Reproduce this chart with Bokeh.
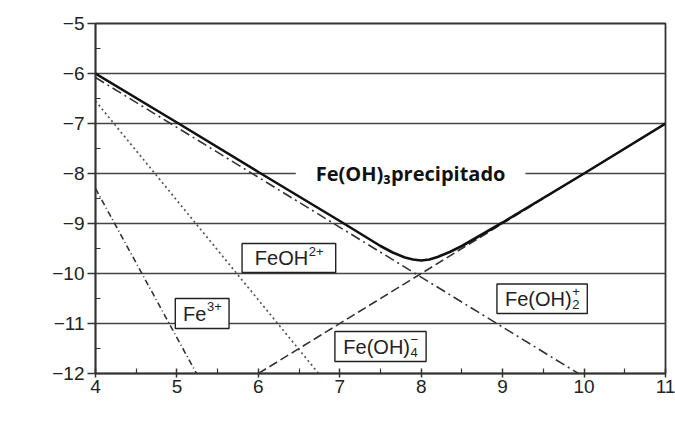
import math
from bokeh.plotting import figure
from bokeh.models import Range1d, Label, BoxAnnotation, FixedTicker, CustomJSTickFormatter
from bokeh.embed import file_html
from bokeh.resources import INLINE

# ---- data ----
ph_ticks = [4, 5, 6, 7, 8, 9, 10, 11]
log_ticks = [-12, -11, -10, -9, -8, -7, -6, -5]

# total solubility (solid)
ph_total = [4.0, 5.0, 6.0, 7.0, 7.5, 7.65, 7.8, 7.9, 8.0, 8.1, 8.2, 8.35, 8.5, 9.0, 10.0, 11.0]
log_total = [-6.0, -6.98, -7.97, -8.95, -9.45, -9.58, -9.68, -9.72, -9.74, -9.72, -9.67, -9.57, -9.45, -8.98, -8.0, -7.0]

# Fe(OH)2+ (dash-dot)
ph_feoh2 = [4.0, 9.93]
log_feoh2 = [-6.08, -12.0]

# FeOH2+ (dotted)
ph_feoh = [4.0, 6.74]
log_feoh = [-6.55, -12.0]

# Fe3+ (dash-dot, short)
ph_fe3 = [4.0, 5.24]
log_fe3 = [-8.3, -12.0]

# Fe(OH)4- (dashed)
ph_feoh4 = [6.0, 11.0]
log_feoh4 = [-12.0, -7.0]

# label boxes: (left, right, bottom, top, base, sup, sub)
box_labels = [
    (5.80, 6.95, -9.98, -9.40, "FeOH", "2+", ""),
    (4.98, 5.64, -11.10, -10.50, "Fe", "3+", ""),
    (8.93, 10.04, -10.80, -10.21, "Fe(OH)", "+", "2"),
    (6.94, 8.06, -11.76, -11.16, "Fe(OH)", "\u2212", "4"),
]

title_text = "Fe(OH)\u2083precipitado"
title_pos = (7.87, -8.0)
x_label = "pH"
y_label = "log [Fe(III)]"

# ---- figure ----
p = figure(width=675, height=428, x_range=Range1d(4, 11), y_range=Range1d(-12, -5),
           output_backend="svg", toolbar_location=None,
           min_border_left=95, min_border_right=10, min_border_top=23, min_border_bottom=55)
p.background_fill_color = "white"
p.border_fill_color = "white"
p.outline_line_color = "#333333"
p.outline_line_width = 1.8

p.xaxis.ticker = FixedTicker(ticks=ph_ticks, minor_ticks=[t + 0.5 for t in ph_ticks[:-1]])
p.yaxis.ticker = FixedTicker(ticks=log_ticks, minor_ticks=[t + 0.5 for t in log_ticks[:-1]])
p.yaxis.formatter = CustomJSTickFormatter(code="return tick < 0 ? '\\u2212' + Math.abs(tick) : '' + tick;")

for ax in (p.xaxis[0], p.yaxis[0]):
    ax.axis_line_color = "#333333"
    ax.axis_line_width = 1.6
    ax.major_tick_line_color = "#333333"
    ax.minor_tick_line_color = "#333333"
    ax.major_tick_line_width = 1.5
    ax.minor_tick_line_width = 1.2
    ax.major_label_text_font = "Liberation Sans"
    ax.major_label_text_font_size = "19px"
    ax.major_label_text_color = "#222222"

p.yaxis.major_tick_out = 8
p.yaxis.major_tick_in = 0
p.yaxis.minor_tick_in = 5
p.yaxis.minor_tick_out = 0
p.yaxis.major_label_standoff = 3

p.xaxis.major_tick_out = 4
p.xaxis.major_tick_in = 5
p.xaxis.minor_tick_in = 5
p.xaxis.minor_tick_out = 0
p.xaxis.major_label_standoff = 2

p.xgrid.visible = False
p.ygrid.ticker = FixedTicker(ticks=log_ticks)
p.ygrid.grid_line_color = "#444444"
p.ygrid.grid_line_width = 1.5

# ---- lines ----
p.line(ph_fe3, log_fe3, line_color="#333333", line_width=1.6, line_dash="6 3 1 3")
p.line(ph_feoh, log_feoh, line_color="#555555", line_width=1.7, line_dash="2 3")
p.line(ph_feoh4, log_feoh4, line_color="#333333", line_width=1.6, line_dash="9 4")
p.line(ph_feoh2, log_feoh2, line_color="#333333", line_width=1.6, line_dash="10 4 2 4")
p.line(ph_total, log_total, line_color="#111111", line_width=2.6)

# ---- labels ----
p.add_layout(Label(x=title_pos[0], y=title_pos[1], text=title_text, text_font="Open Sans",
                   text_font_style="bold", text_font_size="20px", text_color="#111111",
                   text_align="center", text_baseline="middle",
                   background_fill_color="white", padding=(20, 2)))

ARIAL = {"F": .611, "e": .556, "O": .778, "H": .722, "(": .333, ")": .333,
         "2": .556, "3": .556, "4": .556, "+": .584, "\u2212": .584}


def tw(s, size):
    return sum(ARIAL.get(c, .556) for c in s) * size


BASE = 20
SCR = 13
for x0, x1, y0, y1, base, sup, sub in box_labels:
    p.add_layout(BoxAnnotation(left=x0, right=x1, bottom=y0, top=y1, fill_color="white",
                               fill_alpha=1.0, line_color="#222222", line_width=1.4, line_alpha=1.0))
    bw = tw(base, BASE)
    sw = max(tw(sup, SCR), tw(sub, SCR))
    cx = (x0 + x1) / 2
    cy = (y0 + y1) / 2
    anchor = -(bw + sw) / 2 + bw
    p.add_layout(Label(x=cx, y=cy, x_offset=anchor, text=base, text_align="right",
                       text_baseline="middle", text_font="Liberation Sans",
                       text_font_size=f"{BASE}px", text_color="#222222"))
    if sup:
        p.add_layout(Label(x=cx, y=cy, x_offset=anchor + 0.5, y_offset=7, text=sup,
                           text_align="left", text_baseline="middle", text_font="Liberation Sans",
                           text_font_size=f"{SCR}px", text_color="#222222"))
    if sub:
        p.add_layout(Label(x=cx, y=cy, x_offset=anchor + 0.5, y_offset=-6, text=sub,
                           text_align="left", text_baseline="middle", text_font="Liberation Sans",
                           text_font_size=f"{SCR}px", text_color="#222222"))

p.add_layout(Label(x=4, y=-8.1, x_offset=-73, angle=math.pi / 2, text=y_label,
                   text_align="center", text_baseline="middle", text_font="Liberation Sans",
                   text_font_style="bold", text_font_size="20px", text_color="#222222"))
p.add_layout(Label(x=7.45, y=-12, y_offset=-41, text=x_label,
                   text_align="center", text_baseline="middle", text_font="Liberation Sans",
                   text_font_style="bold", text_font_size="20px", text_color="#222222"))

open("out.html", "w").write(file_html(p, INLINE))
